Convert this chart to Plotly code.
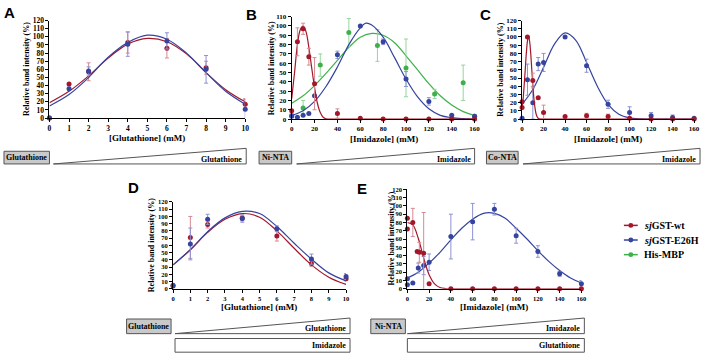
import plotly.graph_objects as go

# ---------------- data ----------------
# Panel A : Glutathione elution
A_x = [0, 1, 2, 4, 6, 8, 10]
A_wt = [0, 42, 57, 93, 86, 62, 17]
A_wt_err = [0, 0, 11, 13, 12, 8, 7]
A_e26h = [0, 36, 58, 91, 95, 60, 11]
A_e26h_err = [0, 2, 5, 15, 10, 17, 12]
A_fit_x = [0, 1, 2, 3, 4, 5, 6, 7, 8, 9, 10]
A_wt_fit = [19, 33, 52, 74, 91, 98, 94, 79, 56, 35, 20]
A_e26h_fit = [15, 29, 50, 75, 93, 102, 97, 80, 56, 33, 17]

# Panel B : Ni-NTA, imidazole
B_x = [0, 5, 10, 15, 20, 40, 60, 80, 100, 120, 140, 160]
B_wt = [9, 83, 97, 67, 38, 6, 1, 0, 0, 0, 0, 0]
B_wt_err = [0, 15, 6, 9, 28, 5, 0, 0, 0, 0, 0, 0]
B_e26h = [3, 2, 4, 6, 25, 69, 100, 83, 43, 19, 4, 3]
B_e26h_err = [0, 0, 0, 0, 0, 4, 0, 3, 8, 4, 0, 2]
B_mbp_x = [0, 10, 25, 50, 75, 100, 125, 150, 160]
B_mbp = [4, 12, 58, 93, 79, 55, 27, 39, 3]
B_mbp_err = [0, 8, 12, 15, 17, 31, 5, 19, 2]
B_wt_fit_x = [0, 2.5, 5, 7.5, 10, 12.5, 15, 17.5, 20, 22.5, 25, 27.5, 30, 35, 40, 60, 100, 160]
B_wt_fit = [22, 50, 80, 96, 100, 94, 77, 55, 34, 17, 7, 2, 0.4, 0, 0, 0, 0, 0]
B_e26h_fit_x = [0, 10, 20, 30, 40, 50, 60, 65, 70, 80, 90, 100, 110, 120, 130, 140, 150, 160]
B_e26h_fit = [4, 9, 19, 35, 56, 80, 98, 103, 101, 88, 66, 43, 24, 11, 4, 1.5, 0.5, 0.1]
B_mbp_fit_x = [0, 10, 20, 30, 40, 50, 60, 70, 80, 90, 100, 110, 120, 130, 140, 150, 160]
B_mbp_fit = [17, 25, 36, 49, 63, 77, 88, 92, 90, 82, 68, 53, 38, 25, 15, 8, 4]

# Panel C : Co-NTA, imidazole
C_wt_x = [0, 0, 5, 10, 15, 20, 40, 60, 80, 100, 120, 140, 160]
C_wt = [14, 21, 100, 47, 26, 8, 3, 4, 3, 1, 0, 0, 0]
C_wt_err = [0, 0, 0, 9, 0, 9, 1, 3, 3, 1, 0, 0, 0]
C_x = [0, 5, 10, 15, 20, 40, 60, 80, 100, 120, 140, 160]
C_e26h = [1, 48, 20, 67, 69, 100, 65, 18, 8, 4, 2, 1]
C_e26h_err = [0, 19, 20, 8, 11, 0, 8, 5, 7, 4, 3, 1]
C_wt_fit_x = [0, 1, 2, 3, 4, 5, 6, 7, 8, 9, 10, 11, 12, 13, 14, 15, 16, 18, 20, 40, 100, 160]
C_wt_fit = [14, 25, 42, 61, 81, 95, 101, 95, 81, 61, 42, 25, 14, 6.5, 2.8, 1, 0.3, 0, 0, 0, 0, 0]
C_e26h_fit_x = [0, 10, 20, 30, 40, 50, 60, 70, 80, 90, 100, 110, 120, 140, 160]
C_e26h_fit = [18, 36, 63, 91, 105, 96, 69, 40, 18, 6, 1.5, 0.3, 0, 0, 0]

# Panel D : Glutathione elution after imidazole
D_x = [0, 1, 2, 4, 6, 8, 10]
D_wt = [4, 71, 89, 98, 73, 35, 14]
D_wt_err = [0, 29, 5, 4, 7, 4, 3]
D_e26h = [5, 62, 96, 97, 83, 41, 17]
D_e26h_err = [0, 22, 7, 5, 4, 7, 4]
D_fit_x = [0, 1, 2, 3, 4, 5, 6, 7, 8, 9, 10]
D_wt_fit = [33, 54, 78, 96, 104, 99, 80, 56, 33, 16, 6]
D_e26h_fit = [33, 54, 79, 98, 107, 104, 86, 63, 41, 22, 11]

# Panel E : Ni-NTA, imidazole after glutathione
E_wt_x = [0, 0, 5, 9, 11, 15, 20, 40, 60, 80, 100, 120, 140, 160]
E_wt = [85, 72, 80, 45, 44, 43, 6, 0, 0, 0, 0, 0, 0, 0]
E_wt_err = [0, 0, 17, 0, 12, 49, 0, 0, 0, 0, 0, 0, 0, 0]
E_e26h_x = [0, 0, 5, 10, 15, 20, 40, 60, 80, 100, 120, 140, 160]
E_e26h = [12, 5, 7, 25, 28, 32, 63, 81, 96, 64, 45, 18, 6]
E_e26h_err = [0, 0, 0, 6, 11, 10, 27, 22, 7, 9, 7, 3, 4]
E_wt_fit_x = [0, 5, 10, 15, 20, 25, 30, 35, 40, 60, 100, 160]
E_wt_fit = [80, 77, 61, 37, 17, 6, 1.5, 0.3, 0, 0, 0, 0]
E_e26h_fit_x = [0, 10, 20, 30, 40, 50, 60, 70, 80, 90, 100, 110, 120, 130, 140, 150, 160]
E_e26h_fit = [13, 20, 31, 44, 59, 73, 84, 91, 91, 85, 73, 60, 46, 33, 22, 13, 7]

series_names = ["<i>sj</i>GST-wt", "<i>sj</i>GST-E26H", "His-MBP"]
y_title = "Relative band intensity (%)"

# ---------------- styling ----------------
W, H = 709, 364
def fx(px): return px / W
def fy(py): return 1 - py / H

RED, RED_E = "#a3172b", "#d58a93"
BLUE, BLUE_E = "#35449f", "#8d92d2"
GREEN, GREEN_E = "#3cb149", "#93d69b"
SERIF = "Liberation Serif, Times New Roman, Times, serif"
SANS = "Liberation Sans, Arial, sans-serif"

fig = go.Figure()

def add_series(xa, ya, x, y, err, fx_, fy_, col, ecol):
    fig.add_trace(go.Scatter(x=fx_, y=fy_, mode="lines", line=dict(color=col, width=1.2, shape="spline", smoothing=1.0),
                             xaxis=xa, yaxis=ya, showlegend=False, hoverinfo="skip", cliponaxis=False))
    fig.add_trace(go.Scatter(x=x, y=y, mode="markers", marker=dict(color=col, size=5),
                             error_y=dict(type="data", array=err, color=ecol, thickness=1, width=2),
                             xaxis=xa, yaxis=ya, showlegend=False, cliponaxis=False))

add_series("x", "y", A_x, A_wt, A_wt_err, A_fit_x, A_wt_fit, RED, RED_E)
add_series("x", "y", A_x, A_e26h, A_e26h_err, A_fit_x, A_e26h_fit, BLUE, BLUE_E)
add_series("x2", "y2", B_mbp_x, B_mbp, B_mbp_err, B_mbp_fit_x, B_mbp_fit, GREEN, GREEN_E)
add_series("x2", "y2", B_x, B_e26h, B_e26h_err, B_e26h_fit_x, B_e26h_fit, BLUE, BLUE_E)
add_series("x2", "y2", B_x, B_wt, B_wt_err, B_wt_fit_x, B_wt_fit, RED, RED_E)
add_series("x3", "y3", C_x, C_e26h, C_e26h_err, C_e26h_fit_x, C_e26h_fit, BLUE, BLUE_E)
add_series("x3", "y3", C_wt_x, C_wt, C_wt_err, C_wt_fit_x, C_wt_fit, RED, RED_E)
add_series("x4", "y4", D_x, D_wt, D_wt_err, D_fit_x, D_wt_fit, RED, RED_E)
add_series("x4", "y4", D_x, D_e26h, D_e26h_err, D_fit_x, D_e26h_fit, BLUE, BLUE_E)
add_series("x5", "y5", E_e26h_x, E_e26h, E_e26h_err, E_e26h_fit_x, E_e26h_fit, BLUE, BLUE_E)
add_series("x5", "y5", E_wt_x, E_wt, E_wt_err, E_wt_fit_x, E_wt_fit, RED, RED_E)

def xax(dom, rng, dtick, anchor, fs):
    return dict(domain=[fx(dom[0]), fx(dom[1])], range=rng, dtick=dtick, anchor=anchor,
                showline=True, linecolor="black", linewidth=1, ticks="outside", ticklen=3,
                tickcolor="black", showgrid=False, zeroline=False, fixedrange=True,
                tickfont=dict(family=SERIF, size=fs, color="black", weight="bold"))
def yax(dom, rng, anchor, fs):
    return dict(domain=[fy(dom[1]), fy(dom[0])], range=rng, dtick=10, anchor=anchor,
                showline=True, linecolor="black", linewidth=1, ticks="outside", ticklen=3,
                tickcolor="black", showgrid=False, zeroline=False, fixedrange=True,
                tickfont=dict(family=SERIF, size=fs, color="black", weight="bold"))

layout = dict(
    width=W, height=H, margin=dict(l=0, r=0, t=0, b=0),
    paper_bgcolor="white", plot_bgcolor="white", showlegend=False,
    xaxis=xax((48, 246), [0, 10], 1, "y", 7.5), yaxis=yax((17, 117), [0, 120], "x", 7.5),
    xaxis2=xax((293, 478), [0, 160], 20, "y2", 7), yaxis2=yax((13, 118), [0, 110], "x2", 7),
    xaxis3=xax((526, 700), [0, 160], 20, "y3", 7), yaxis3=yax((17, 118), [0, 120], "x3", 7),
    xaxis4=xax((173, 348), [0, 10], 1, "y4", 6.5), yaxis4=yax((203, 292), [0, 120], "x4", 6.5),
    xaxis5=xax((410, 586), [0, 160], 20, "y5", 6.5), yaxis5=yax((190, 292), [0, 120], "x5", 6.5),
)
fig.update_layout(**layout)

ann = []
def text(px, py, s, size=8, anchor="center", angle=0, family=SERIF):
    ann.append(dict(x=fx(px), y=fy(py), xref="paper", yref="paper", text=s, showarrow=False,
                    xanchor=anchor, yanchor="middle", textangle=angle, borderpad=0,
                    font=dict(family=family, size=size, color="black", weight="bold")))

# panel letters
for (px, py, s) in [(8, 9, "A"), (252, 11, "B"), (489, 11, "C"), (133, 188, "D"), (364, 189, "E")]:
    text(px, py, s, size=15, family=SANS)
# axis titles
for (px, py) in [(25, 67), (272, 66), (504, 67), (152, 247), (393, 241)]:
    text(px, py, y_title, size=8, angle=-90)
text(147, 137, "[Glutathione] (mM)", size=9)
text(386, 138, "[Imidazole] (mM)", size=9)
text(613, 138, "[Imidazole] (mM)", size=9)
text(260, 311, "[Glutathione] (mM)", size=9)
text(498, 311, "[Imidazole] (mM)", size=9)

shapes = []
def gray_box(x0, x1, y0, y1, label):
    shapes.append(dict(type="rect", xref="paper", yref="paper", x0=fx(x0), x1=fx(x1), y0=fy(y1), y1=fy(y0),
                       fillcolor="#c9c9c9", line=dict(color="#555555", width=1)))
    text((x0 + x1) / 2, (y0 + y1) / 2, label, size=8)
def wedge(x0, x1, ybot, ytop, label):
    path = f"M {fx(x0)},{fy(ybot)} L {fx(x1)},{fy(ybot)} L {fx(x1)},{fy(ytop)} Z"
    shapes.append(dict(type="path", xref="paper", yref="paper", path=path,
                       fillcolor="white", line=dict(color="#555555", width=1)))
    text(x1 - 3, (ybot + ytop) / 2 + 3, label, size=8, anchor="right")
def bar(x0, x1, y0, y1, label):
    shapes.append(dict(type="rect", xref="paper", yref="paper", x0=fx(x0), x1=fx(x1), y0=fy(y1), y1=fy(y0),
                       fillcolor="white", line=dict(color="#555555", width=1)))
    text(x1 - 3, (y0 + y1) / 2, label, size=8, anchor="right")

gray_box(2, 48, 151, 164, "Glutathione")
wedge(52, 247, 164, 148, "Glutathione")
gray_box(260, 293, 151, 164, "Ni-NTA")
wedge(298, 478, 164, 148, "Imidazole")
gray_box(490, 522, 151, 164, "Co-NTA")
wedge(527, 706, 164, 148, "Imidazole")
gray_box(126, 171, 323, 338, "Glutathione")
wedge(175, 352, 338, 322, "Glutathione")
bar(175, 352, 343, 357, "Imidazole")
gray_box(373, 408, 323, 338, "Ni-NTA")
wedge(410, 589, 338, 322, "Imidazole")
bar(410, 589, 343, 357, "Glutathione")

# legend (key drawn beside panel E)
for i, (name, col) in enumerate(zip(series_names, [RED, BLUE, GREEN])):
    ly = 227 + 15 * i
    shapes.append(dict(type="line", xref="paper", yref="paper", x0=fx(629), x1=fx(643), y0=fy(ly), y1=fy(ly),
                       line=dict(color=col, width=1.5)))
    shapes.append(dict(type="circle", xref="paper", yref="paper", x0=fx(633.5), x1=fx(638.5),
                       y0=fy(ly + 2.5), y1=fy(ly - 2.5), fillcolor=col, line=dict(color=col, width=0)))
    text(648, ly, name, size=10, anchor="left")

fig.update_layout(annotations=ann, shapes=shapes)
fig.write_html("out.html", config={"displayModeBar": False},
               post_script="document.body.style.margin='0';document.body.style.overflow='hidden';")
